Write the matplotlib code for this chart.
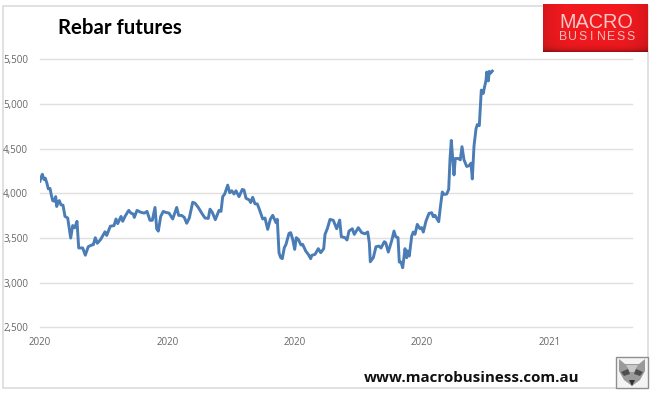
import numpy as np
import matplotlib
matplotlib.use("Agg")
import matplotlib.pyplot as plt
from matplotlib.patches import Rectangle, Polygon

sessions = [0,1,2.3,4,5.3,7,8.3,10,11.3,12.7,14.3,15.7,16.7,18.3,19.3,21,23,25,27.7,30.7,32.7,34.7,37,38.7,41,42.7,45.3,48.3,51.7,53.3,55.3,57.3,60.7,65,66.7,70.3,74,76,77.7,81,82.7,85,88.7,91,93.3,94.3,97,101,104.3,107,110,112.3,115,116.7,118.3,120.7,123.3,125.7,129,132.7,136.7,138.7,141.7,144.3,146.7,149.3,152.7,155,158.3,161.7,165,168.3,170,172.3,175.3,179,181,182.7,184.7,187.7,189.7,191.7,194,196,199,202.3,204,206,209.3,210.7,212.7,215,217.3,219.3,222.7,225,227.7,230.3,232.7,236,237.3,239,240.7,242.3,244.3,246,249,250.7,252.7,254.7,256.3,258.3,261,262.7,265.7,268.3,270.7,271.7,275,278.3,280.7,283.7,285,287.3,290,293.3,296.7,299.7,301.3,305,307,309,312.3,314.3,318.3,321.7,325,327.7,329.3,330.3,333.3,336,339,341,344.3,345.7,348.3,351.7,354,355.7,358,359.3,361,362.7,365,366.7,367.7,369.3,371.7,373.3,375,377.3,380,381.7,383.3,386,389,391.7,393.3,395,398.7,400.3,402.3,404,406.7,408.7,410,411.3,414,415.3,418.3,420.3,422,424,426.7,429,431,432.3,434,436,437.3,439.3,441.3,443.3,444,446,446.7,448.3,449.3,450.7,452.3]
prices = [4136,4177,4213,4155,4170,4110,4050,4055,3982,3919,3912,3963,3853,3908,3919,3871,3868,3742,3724,3500,3640,3614,3687,3389,3389,3389,3308,3404,3422,3425,3503,3441,3485,3570,3529,3632,3639,3713,3661,3742,3687,3742,3809,3779,3768,3731,3809,3787,3779,3798,3698,3698,3842,3603,3577,3742,3798,3787,3779,3713,3842,3753,3753,3731,3665,3724,3900,3890,3842,3779,3724,3720,3823,3787,3705,3809,3798,3963,3993,4092,4007,4029,3993,4029,3963,4044,4037,3945,3926,3897,3956,3882,3882,3823,3713,3724,3597,3709,3754,3672,3709,3336,3280,3269,3392,3429,3552,3560,3485,3373,3504,3485,3422,3429,3355,3317,3269,3306,3317,3381,3336,3381,3541,3604,3709,3698,3604,3701,3515,3504,3478,3578,3604,3541,3616,3560,3548,3567,3448,3235,3280,3403,3410,3388,3459,3448,3343,3470,3578,3515,3504,3231,3231,3168,3381,3280,3355,3299,3522,3567,3541,3653,3604,3616,3567,3690,3776,3783,3739,3754,3683,3839,4015,3989,3992,4045,4382,4592,4206,4390,4390,4375,4522,4375,4301,4309,4338,4161,4529,4721,4769,4758,5155,5118,5162,5265,5357,5258,5365,5346,5368]
y_ticks = [2500,3000,3500,4000,4500,5000,5500]
x_tick_pos = [0,127.5,255,382,510]
x_tick_labels = ["2020","2020","2020","2020","2021"]
title = "Rebar futures"
url = "www.macrobusiness.com.au"
logo_top = "MACRO"
logo_bottom = "BUSINESS"

W, H = 660, 396
fig = plt.figure(figsize=(W/100, H/100), dpi=100, facecolor="white")

bg = fig.add_axes([0, 0, 1, 1], zorder=0)
bg.set_xlim(0, W); bg.set_ylim(H, 0); bg.axis("off")
bg.add_patch(Rectangle((2.5, 5.5), 645.5, 382.5, fc="white", ec="#dcdcdc", lw=1.2))

ax = fig.add_axes([40/W, 1-327.4/H, 592/W, (327.4-59.3)/H], zorder=1)
ax.patch.set_alpha(0)
ax.plot(sessions, prices, color="#4a7cb6", lw=2.1, solid_joinstyle="round")
ax.set_xlim(0, 592); ax.set_ylim(2500, 5500)
ax.set_yticks(y_ticks)
ax.set_yticklabels([f"{v:,}" for v in y_ticks])
ax.set_xticks(x_tick_pos); ax.set_xticklabels(x_tick_labels)
ax.grid(axis="y", color="#e0e0e0", lw=1)
for gl in ax.get_ygridlines():
    gl.set_clip_on(False)
ax.set_axisbelow(True)
for s in ax.spines.values():
    s.set_visible(False)
ax.tick_params(length=0, labelsize=7, labelcolor="#666666", labelfontfamily="Open Sans")
ax.tick_params(axis="y", pad=8.5)
ax.tick_params(axis="x", pad=7)

top = fig.add_axes([0, 0, 1, 1], zorder=2)
top.set_xlim(0, W); top.set_ylim(H, 0); top.axis("off")
top.text(58, 27.5, title, fontsize=14.7, fontweight="bold", family="Lato", va="center", ha="left", color="black")
top.text(364, 378.5, url, fontsize=10.9, fontweight="bold", family="Open Sans", va="center", ha="left", color="#111111")

# Logo block
xx = np.linspace(-1, 1, 105); yy = np.linspace(-1, 1, 47)
gx, gy = np.meshgrid(xx, yy)
shade = np.clip(1 - 0.12*np.abs(gx)**4 - 0.05*np.clip(gy, 0, 1)**2 - 0.28*np.clip(gy, 0, 1)**10, 0, 1)
img = np.dstack([0.93*shade+0.02, 0.10*shade, 0.12*shade])
top.imshow(img, extent=(543, 648, 52.5, 5), aspect="auto", zorder=3, interpolation="bilinear")
top.set_xlim(0, W); top.set_ylim(H, 0)
top.text(596, 22.5, logo_top, fontsize=14.3, color="#f7c9c9", family="Liberation Sans", ha="center", va="center", zorder=4)
for i, ch in enumerate(logo_bottom):
    top.text(563 + i*9.6, 37.5, ch, fontsize=8.8, color="#f5bcbc", family="Liberation Sans", ha="center", va="center", zorder=4)

# Fox thumbnail
top.add_patch(Rectangle((616, 356.5), 32, 31.5, fc="#f4f4f4", ec="#8f8f8f", lw=1, zorder=3))
top.add_patch(Polygon([(619,359),(625,364),(639,364),(645,359),(645,371),(640,380),(632,386),(624,380),(619,371)], fc="#9a9a9a", ec="none", zorder=4))
top.add_patch(Polygon([(621,372),(628,369),(630,374),(624,376)], fc="#4e4e4e", ec="none", zorder=5))
top.add_patch(Polygon([(643,372),(636,369),(634,374),(640,376)], fc="#4e4e4e", ec="none", zorder=5))
top.add_patch(Polygon([(629,380),(635,380),(632,386)], fc="#333333", ec="none", zorder=5))
top.add_patch(Polygon([(626,365),(638,365),(634,372),(630,372)], fc="#c8c8c8", ec="none", zorder=5))

fig.savefig("out.png", dpi=100)
